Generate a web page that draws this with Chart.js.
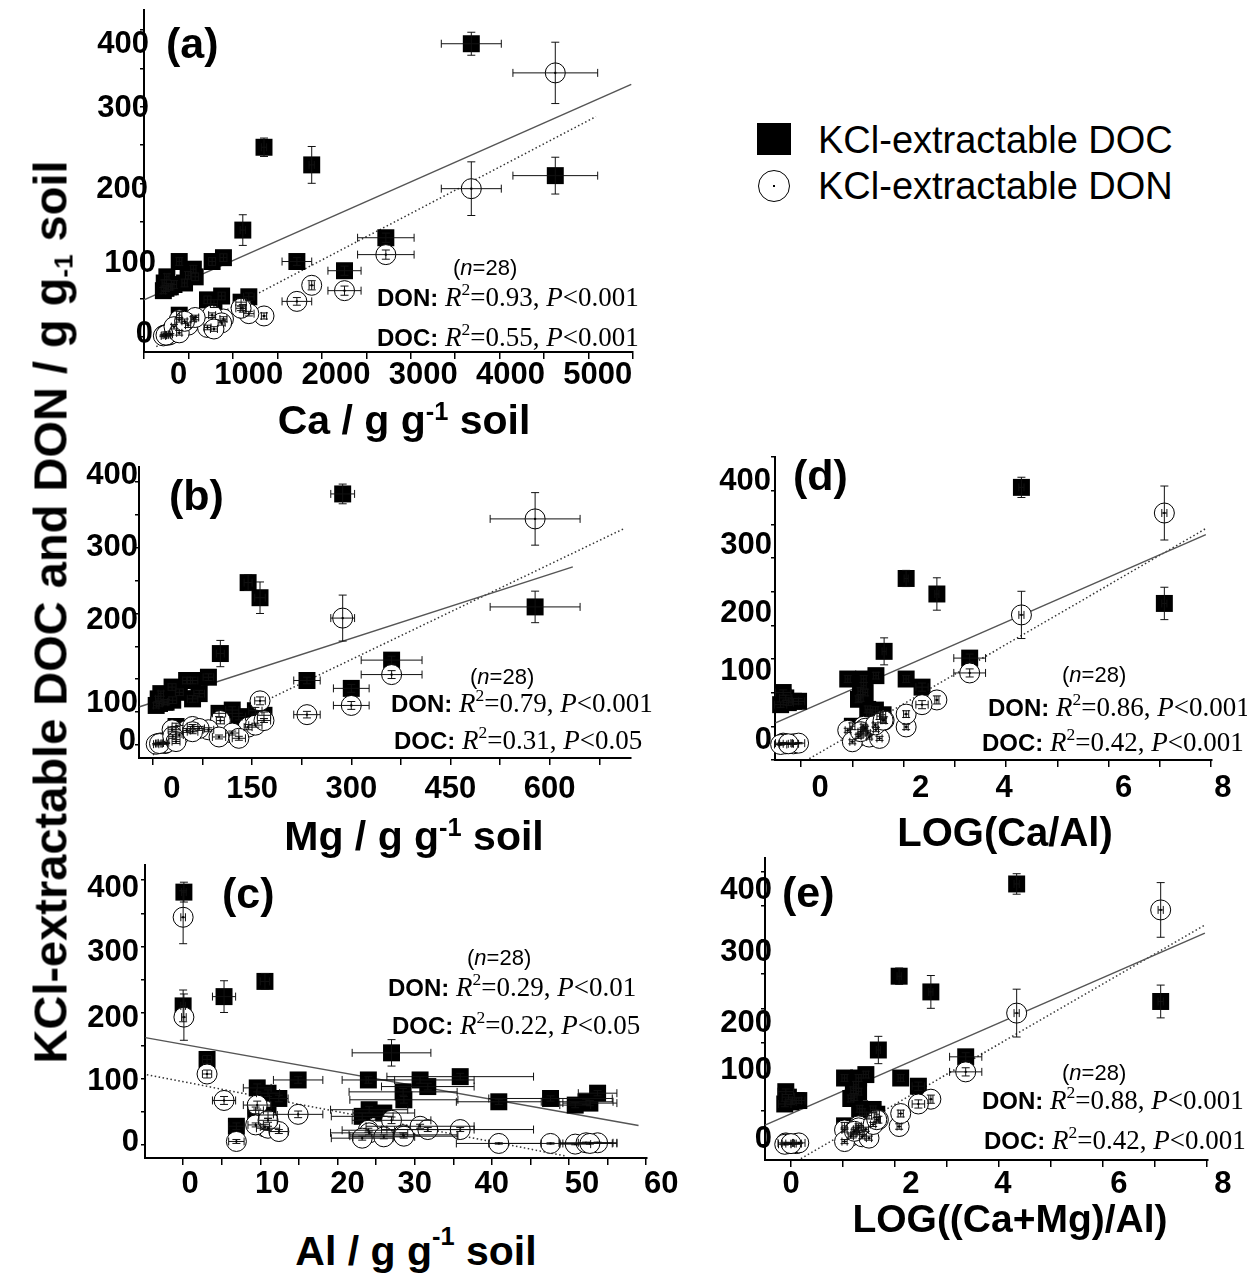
<!DOCTYPE html>
<html>
<head>
<meta charset="utf-8">
<script src="https://cdn.jsdelivr.net/npm/chart.js@4.4.1/dist/chart.umd.min.js"></script>
<style>
body { margin:0; background:#fff; width:1247px; height:1274px; position:relative; overflow:hidden; font-family:"Liberation Sans", Arial, sans-serif; color:#000; }
canvas { position:absolute; }
.t { position:absolute; white-space:nowrap; line-height:1; transform:translateY(-50%); }
.c { transform:translate(-50%,-50%); }
.lett { font-weight:bold; font-size:43px; }
.atl { font-weight:bold; font-size:41px; }
.atl sup { font-size:0.62em; position:relative; top:-0.55em; vertical-align:baseline; line-height:0; }
.nn { font-size:22px; }
.st { font-family:"Liberation Serif","Times New Roman",serif; font-size:27px; }
.st b { font-family:"Liberation Sans", Arial, sans-serif; font-size:24px; }
.st sup { font-size:0.65em; position:relative; top:-0.6em; vertical-align:baseline; line-height:0; }
.leg { font-size:38px; }
</style>
</head>
<body>
<canvas id="pa"></canvas>
<canvas id="pb"></canvas>
<canvas id="pc"></canvas>
<canvas id="pd"></canvas>
<canvas id="pe"></canvas>

<div class="t c" style="left:50px;top:612px;transform:translate(-50%,-50%) rotate(-90deg);font-weight:bold;font-size:47px;">KCl-extractable DOC and DON / g g<span style="font-size:0.55em;position:relative;top:0.25em">-1</span> soil</div>

<div class="t lett" style="left:166px;top:43px">(a)</div>
<div class="t lett" style="left:169px;top:495px">(b)</div>
<div class="t lett" style="left:222px;top:893px">(c)</div>
<div class="t lett" style="left:793px;top:475px">(d)</div>
<div class="t lett" style="left:782px;top:892px">(e)</div>

<div class="t atl c" style="left:404px;top:420px">Ca / g g<sup>-1</sup> soil</div>
<div class="t atl c" style="left:414px;top:836px">Mg / g g<sup>-1</sup> soil</div>
<div class="t atl c" style="left:416px;top:1251px">Al / g g<sup style="top:-0.8em">-1</sup> soil</div>
<div class="t atl c" style="left:1005px;top:832px;font-size:40px">LOG(Ca/Al)</div>
<div class="t atl c" style="left:1010px;top:1218px;font-size:39px">LOG((Ca+Mg)/Al)</div>

<div class="t nn" style="left:453px;top:268px">(<i>n</i>=28)</div>
<div class="t st" style="left:377px;top:297px"><b>DON:</b> <i>R</i><sup>2</sup>=0.93, <i>P</i>&lt;0.001</div>
<div class="t st" style="left:377px;top:337px"><b>DOC:</b> <i>R</i><sup>2</sup>=0.55, <i>P</i>&lt;0.001</div>

<div class="t nn" style="left:470px;top:677px">(<i>n</i>=28)</div>
<div class="t st" style="left:391px;top:703px"><b>DON:</b> <i>R</i><sup>2</sup>=0.79, <i>P</i>&lt;0.001</div>
<div class="t st" style="left:394px;top:740px"><b>DOC:</b> <i>R</i><sup>2</sup>=0.31, <i>P</i>&lt;0.05</div>

<div class="t nn" style="left:1062px;top:675px">(<i>n</i>=28)</div>
<div class="t st" style="left:988px;top:707px"><b>DON:</b> <i>R</i><sup>2</sup>=0.86, <i>P</i>&lt;0.001</div>
<div class="t st" style="left:982px;top:742px"><b>DOC:</b> <i>R</i><sup>2</sup>=0.42, <i>P</i>&lt;0.001</div>

<div class="t nn" style="left:467px;top:958px">(<i>n</i>=28)</div>
<div class="t st" style="left:388px;top:987px"><b>DON:</b> <i>R</i><sup>2</sup>=0.29, <i>P</i>&lt;0.01</div>
<div class="t st" style="left:392px;top:1025px"><b>DOC:</b> <i>R</i><sup>2</sup>=0.22, <i>P</i>&lt;0.05</div>

<div class="t nn" style="left:1062px;top:1073px">(<i>n</i>=28)</div>
<div class="t st" style="left:982px;top:1100px"><b>DON:</b> <i>R</i><sup>2</sup>=0.88, <i>P</i>&lt;0.001</div>
<div class="t st" style="left:984px;top:1140px"><b>DOC:</b> <i>R</i><sup>2</sup>=0.42, <i>P</i>&lt;0.001</div>

<div style="position:absolute;left:757px;top:123px;width:34px;height:32px;background:#000"></div>
<div style="position:absolute;left:758px;top:170px;width:30px;height:30px;border:1px solid #000;border-radius:50%;"></div>
<div style="position:absolute;left:773px;top:185px;width:2px;height:2px;background:#000"></div>
<div class="t leg" style="left:818px;top:140px">KCl-extractable DOC</div>
<div class="t leg" style="left:818px;top:186px">KCl-extractable DON</div>

<script>
// 28 sites: KCl-extractable DOC and DON (same sites in every panel)
const docY   = [382, 247, 224, 210, 139, 129, 98, 86, 78, 70, 65, 60, 65, 63, 103, 98, 98, 88, 80, 68, 53, 48, 43, 28, 78, 70, 52, 45];
const docErr = [15, 12, 24, 24, 20, 6, 5, 6, 4, 4, 4, 4, 4, 4, 5, 5, 5, 5, 5, 5, 5, 5, 5, 5, 5, 5, 5, 5];
const donY   = [193, 27, 67, 344, 37, 107, 46, 60, 3, 2, 2, 1, 3, 2, 23, 22, 28, 23, 15, 13, 18, 12, 10, 5, 25, 20, 30, 37];
const donErr = [35, 4, 6, 40, 5, 6, 5, 6, 1, 1, 1, 1, 1, 1, 3, 3, 3, 3, 3, 3, 3, 3, 3, 3, 3, 3, 3, 3];

const caX   = [3551, 1174, 1721, 4514, 931, 2571, 1551, 2097, 60, 30, 80, 20, 100, 50, 709, 202, 579, 364, 304, 142, 688, 526, 600, 202, 385, 263, 1000, 911];
const caErr = [344, 30, 30, 486, 30, 324, 170, 190, 25, 25, 25, 25, 25, 25, 40, 30, 40, 30, 30, 30, 40, 40, 40, 30, 40, 30, 60, 60];
const mgX   = [287, 144, 162, 578, 102, 361, 233, 300, 12, 8, 18, 5, 20, 10, 84, 51, 60, 29, 40, 30, 120, 100, 130, 35, 70, 60, 155, 168];
const mgErr = [18, 6, 8, 68, 6, 46, 20, 27, 4, 4, 4, 4, 4, 4, 8, 6, 8, 6, 6, 6, 10, 10, 10, 6, 8, 8, 10, 10];
const alX   = [0.1, 10.6, 5.3, 0.0, 27.0, 3.1, 14.9, 9.6, 53.7, 47.6, 40.9, 50.8, 52.2, 52.7, 35.9, 24.0, 30.7, 31.7, 28.5, 28.6, 24.1, 26.0, 23.2, 6.9, 11.0, 12.4, 9.4, 11.0];
const alErr = [0.3, 0.6, 1.5, 0.3, 5.1, 0.6, 3.2, 1.8, 2.5, 8, 5.5, 2, 3.5, 3.5, 9.5, 3.4, 7, 6, 7, 7, 5, 4, 4, 1, 1.5, 1.2, 1, 1.2];
const logCaAl   = [4.30, 2.05, 2.65, 7.09, 1.62, 3.29, 2.05, 2.36, -0.35, -0.30, -0.15, -0.40, -0.05, -0.25, 1.46, 0.91, 1.22, 1.22, 1.16, 1.12, 1.30, 1.33, 1.53, 1.00, 1.25, 1.16, 1.45, 1.60];
const logCaMgAl = [4.34, 2.08, 2.69, 7.11, 1.68, 3.36, 2.11, 2.45, -0.10, -0.05, 0.10, -0.12, 0.15, 0.00, 1.44, 1.03, 1.30, 1.25, 1.20, 1.15, 1.32, 1.37, 1.50, 1.03, 1.30, 1.22, 1.58, 1.65];
const logErr    = [0.05, 0.04, 0.04, 0.05, 0.04, 0.31, 0.05, 0.12, 0.15, 0.12, 0.1, 0.12, 0.12, 0.1, 0.05, 0.05, 0.05, 0.05, 0.05, 0.05, 0.05, 0.05, 0.05, 0.05, 0.05, 0.05, 0.05, 0.05];

// regression line end points [x, y]
const fitCaDoc = [[-202, 48], [5385, 329]];
const fitCaDon = [[-61, -13], [4980, 287]];
const fitMgDoc = [[-20, 58], [635, 271]];
const fitMgDon = [[0, -15], [712, 329]];
const fitAlDoc = [[-4.9, 162], [59, 29]];
const fitAlDon = [[-4.7, 106], [49.6, -17]];
const fitLDoc  = [[-0.5, 33], [7.9, 312]];
const fitLDon  = [[0.16, -20], [7.9, 321]];
const fitL2Doc = [[-0.5, 29], [7.96, 310]];
const fitL2Don = [[0.19, -20], [7.96, 322]];

// tick labels
const yTicks   = [0, 100, 200, 300, 400];
const caTicks  = [0, 1000, 2000, 3000, 4000, 5000];
const mgTicks  = [0, 150, 300, 450, 600];
const alTicks  = [0, 10, 20, 30, 40, 50, 60];
const logTicks = [0, 2, 4, 6, 8];

const errorBars = {
  id: 'errorBars',
  afterDatasetsDraw(chart) {
    const ctx = chart.ctx;
    const xs = chart.scales.x, ys = chart.scales.y;
    const cap = 4;
    ctx.save();
    ctx.strokeStyle = '#111';
    ctx.fillStyle = '#000';
    ctx.lineWidth = 1;
    chart.data.datasets.forEach(function(ds) {
      if (!ds.errX) return;
      ds.data.forEach(function(p, j) {
        const px = xs.getPixelForValue(p.x), py = ys.getPixelForValue(p.y);
        const x0 = xs.getPixelForValue(p.x - ds.errX[j]), x1 = xs.getPixelForValue(p.x + ds.errX[j]);
        const y0 = ys.getPixelForValue(p.y - ds.errY[j]), y1 = ys.getPixelForValue(p.y + ds.errY[j]);
        ctx.beginPath();
        ctx.moveTo(x0, py); ctx.lineTo(x1, py);
        ctx.moveTo(x0, py - cap); ctx.lineTo(x0, py + cap);
        ctx.moveTo(x1, py - cap); ctx.lineTo(x1, py + cap);
        ctx.moveTo(px, y0); ctx.lineTo(px, y1);
        ctx.moveTo(px - cap, y0); ctx.lineTo(px + cap, y0);
        ctx.moveTo(px - cap, y1); ctx.lineTo(px + cap, y1);
        ctx.stroke();
        if (ds.centerDot) ctx.fillRect(px - 1, py - 1, 2, 2);
      });
    });
    ctx.restore();
  }
};

// tick labels drawn at the scale positions, with the small shifts of the original figure
const tickText = {
  id: 'tickText',
  afterDraw(chart, args, o) {
    const ctx = chart.ctx;
    const xs = chart.scales.x, ys = chart.scales.y;
    ctx.save();
    ctx.font = 'bold 31px "Liberation Sans", Arial, sans-serif';
    ctx.fillStyle = '#000';
    ctx.textAlign = 'center';
    ctx.textBaseline = 'alphabetic';
    o.xLabels.forEach(function(v, i) {
      ctx.fillText(String(v), xs.getPixelForValue(v) + o.xShift[i], chart.chartArea.bottom + o.xBase);
    });
    ctx.textAlign = 'right';
    ctx.textBaseline = 'middle';
    o.yLabels.forEach(function(v, i) {
      ctx.fillText(String(v), chart.chartArea.left + o.yRight[i], ys.getPixelForValue(v) + o.yShift[i]);
    });
    ctx.restore();
  }
};

function pts(xs, ys) { return xs.map(function(x, i) { return {x: x, y: ys[i]}; }); }
function line(f) { return f.map(function(p) { return {x: p[0], y: p[1]}; }); }

function makePanel(id, box, xVals, xErr, xs, fitDoc, fitDon, lab) {
  const cv = document.getElementById(id);
  const padL = 80, padT = 20, padR = 40, padB = 60;
  cv.width = box.R - box.L + padL + padR;
  cv.height = box.B - box.T + padT + padB;
  cv.style.left = (box.L - padL) + 'px';
  cv.style.top = (box.T - padT) + 'px';
  new Chart(cv, {
    type: 'scatter',
    data: {
      datasets: [
        { data: pts(xVals, donY), errX: xErr, errY: donErr, centerDot: true, order: 1, clip: false,
          pointStyle: 'circle', pointRadius: 10, backgroundColor: '#fff', borderColor: '#000', borderWidth: 1 },
        { data: pts(xVals, docY), errX: xErr, errY: docErr, order: 2, clip: false,
          pointStyle: 'rect', pointRadius: 12, backgroundColor: '#000', borderColor: '#000', borderWidth: 0 },
        { data: line(fitDoc), showLine: true, pointRadius: 0, order: 3, clip: false,
          borderColor: '#555', borderWidth: 1.5 },
        { data: line(fitDon), showLine: true, pointRadius: 0, order: 3, clip: false,
          borderColor: '#333', borderWidth: 1.5, borderDash: [1.5, 2.5] }
      ]
    },
    options: {
      responsive: false,
      animation: false,
      layout: { padding: { left: 0, top: padT, right: padR, bottom: 0 } },
      plugins: { legend: { display: false }, tooltip: { enabled: false }, tickText: lab },
      scales: {
        x: {
          type: 'linear', min: xs.min, max: xs.max,
          border: { color: '#000', width: 2 },
          grid: { drawOnChartArea: false, color: '#000', lineWidth: 1.5, tickLength: 7 },
          ticks: { display: false, stepSize: xs.step, includeBounds: false, autoSkip: false },
          afterFit: function(s) { s.height = padB; }
        },
        y: {
          type: 'linear', min: box.ymin, max: box.ymax,
          border: { color: '#000', width: 2 },
          grid: { drawOnChartArea: false, color: '#000', lineWidth: 1.5, tickLength: 4 },
          ticks: { display: false, stepSize: 50, includeBounds: false, autoSkip: false },
          afterFit: function(s) { s.width = padL; }
        }
      }
    },
    plugins: [errorBars, tickText]
  });
}

makePanel('pa', {L: 144, R: 633, T: 10, B: 352, ymin: -20, ymax: 426}, caX, caErr,
  {min: -202, max: 5405, step: 500}, fitCaDoc, fitCaDon,
  {xLabels: caTicks, xShift: [17, 0, 0, 0, 0, 0], xBase: 32,
   yLabels: yTicks, yShift: [-2, 3, 6, 2, 15], yRight: [9, 12, 4, 5, 5]});
makePanel('pb', {L: 139, R: 631, T: 467, B: 758, ymin: -20, ymax: 423}, mgX, mgErr,
  {min: -21, max: 723, step: 75}, fitMgDoc, fitMgDon,
  {xLabels: mgTicks, xShift: [19, 0, 0, 0, 0], xBase: 40,
   yLabels: yTicks, yShift: [-3, 24, 7, 0, -7], yRight: [-3, -1, -1, -1, -1]});
makePanel('pc', {L: 145, R: 647, T: 865, B: 1158, ymin: -20, ymax: 423}, alX, alErr,
  {min: -4.94, max: 60.1, step: 5}, fitAlDoc, fitAlDon,
  {xLabels: alTicks, xShift: [7, 12, 10, 0, 0, 13, 15], xBase: 35,
   yLabels: yTicks, yShift: [-2, 3, 6, 6, 8], yRight: [-6, -6, -6, -6, -6]});
makePanel('pd', {L: 775, R: 1212, T: 457, B: 760, ymin: -22, ymax: 427}, logCaAl, logErr,
  {min: -0.51, max: 8.02, step: 1}, fitLDoc, fitLDon,
  {xLabels: logTicks, xShift: [19, 17, -2, 15, 12], xBase: 37,
   yLabels: yTicks, yShift: [-5, -6, 3, 3, 6], yRight: [-3, -3, -3, -3, -4]});
makePanel('pe', {L: 765, R: 1208, T: 858, B: 1160, ymin: -22, ymax: 420}, logCaMgAl, logErr,
  {min: -0.5, max: 8.02, step: 1}, fitL2Doc, fitL2Don,
  {xLabels: logTicks, xShift: [0, 16, 4, 16, 16], xBase: 33,
   yLabels: yTicks, yShift: [-6, -6, 15, 12, 19], yRight: [7, 7, 7, 7, 7]});
</script>
</body>
</html>
